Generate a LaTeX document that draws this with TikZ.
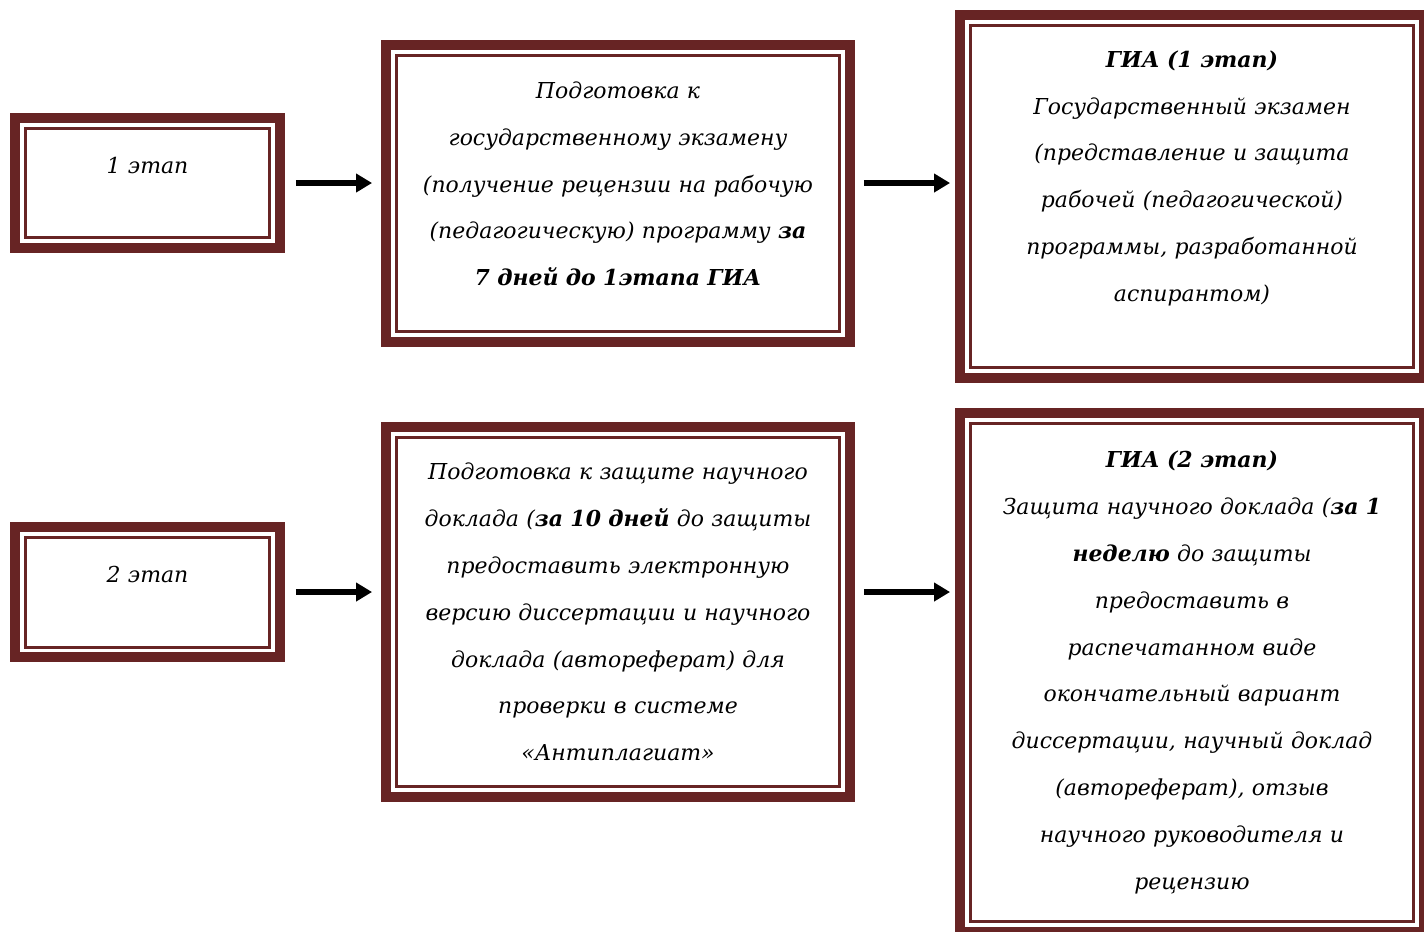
\documentclass[tikz,border=0pt]{standalone}
\usepackage{fontspec}
\setmainfont{DejaVu Serif}
\usepackage{xcolor}
\usetikzlibrary{arrows.meta}
\definecolor{framered}{RGB}{103,36,36}

\tikzset{
    stage/.style={draw=framered, line width=0.2cm, outer sep=0pt, inner sep=0pt,
        text width=8.6cm, align=center,
        font=\fontsize{12.5}{26.65}\selectfont\itshape},
    inframe/.style={draw=framered, line width=0.06cm},
    flow/.style={black, line width=0.11cm, -{Triangle[length=0.32cm,width=0.36cm]}}
}

\begin{document}
\begin{tikzpicture}[x=0.02cm,y=-0.02cm]
                \useasboundingbox (0,0) rectangle (1424,931);
                \clip (0,0) rectangle (1424,931);

                \node[stage, minimum width=5.3cm, minimum height=2.6cm, text width=5cm, text depth=20pt] (a1) at (147.5,183) {1 этап};
                \node[stage, minimum width=9.28cm, minimum height=5.94cm, text depth=117.7pt] (b1) at (618,193.5)
                    {Подготовка к\\государственному экзамену\\(получение рецензии на рабочую\\(педагогическую) программу \textbf{за}\\\textbf{7 дней до 1этапа ГИА}};
                \node[stage, minimum width=9.28cm, minimum height=7.26cm, text depth=156.6pt] (c1) at (1192,196.5)
                    {\textbf{ГИА (1 этап)}\\Государственный экзамен\\(представление и защита\\рабочей (педагогической)\\программы, разработанной\\аспирантом)};

                \node[stage, minimum width=5.3cm, minimum height=2.6cm, text width=5cm, text depth=20pt] (a2) at (147.5,592) {2 этап};
                \node[stage, minimum width=9.28cm, minimum height=7.4cm] (b2) at (618,612)
                    {Подготовка к защите научного\\доклада (\textbf{за 10 дней} до защиты\\предоставить электронную\\версию диссертации и научного\\доклада (автореферат) для\\проверки в системе\\«Антиплагиат»};
                \node[stage, minimum width=9.28cm, minimum height=10.38cm] (c2) at (1192,672.5)
                    {\textbf{ГИА (2 этап)}\\Защита научного доклада (\textbf{за 1}\\\textbf{неделю} до защиты\\предоставить в\\распечатанном виде\\окончательный вариант\\диссертации, научный доклад\\(автореферат), отзыв\\научного руководителя и\\рецензию};

                \foreach \n in {a1,b1,c1,a2,b2,c2}
                    \draw[inframe] ([shift={(0.2cm,-0.2cm)}]\n.north west) rectangle ([shift={(-0.2cm,0.2cm)}]\n.south east);

                \draw[flow, shorten <=0.32cm, shorten >=0.28cm] (a1.east) -- (a1.east -| b1.west);
                \draw[flow, shorten <=0.28cm, shorten >=0.2cm] (a1.east -| b1.east) -- (a1.east -| c1.west);
                \draw[flow, shorten <=0.32cm, shorten >=0.28cm] (a2.east) -- (a2.east -| b2.west);
                \draw[flow, shorten <=0.28cm, shorten >=0.2cm] (a2.east -| b2.east) -- (a2.east -| c2.west);
\end{tikzpicture}
\end{document}
